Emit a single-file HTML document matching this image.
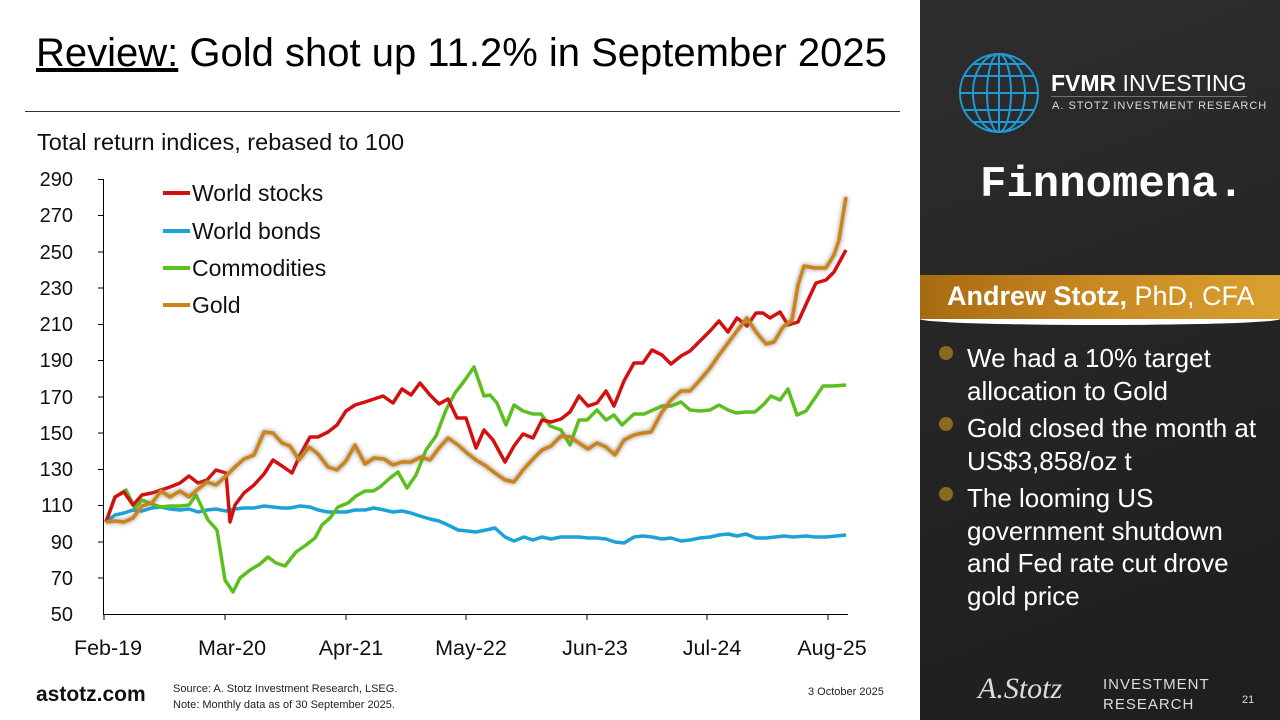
<!DOCTYPE html>
<html><head><meta charset="utf-8"><style>
body{margin:0;width:1280px;height:720px;overflow:hidden;background:#fff;font-family:"Liberation Sans",sans-serif;position:relative}
.t{position:absolute;white-space:nowrap}
#side{position:absolute;left:920px;top:0;width:360px;height:720px;background:linear-gradient(160deg,#2e2e2e,#232323 60%,#1e1e1e)}
</style></head><body>
<div class="t" style="left:36px;top:31px;font-size:40px;color:#000"><span style="text-decoration:underline">Review:</span> Gold shot up 11.2% in September 2025</div>
<div style="position:absolute;left:25px;top:111px;width:875px;height:1px;background:#333"></div>
<div class="t" style="left:37px;top:129px;font-size:23.5px;color:#111">Total return indices, rebased to 100</div>
<svg style="position:absolute;left:0;top:0" width="920" height="720">
<defs><filter id="g" x="-5%" y="-5%" width="110%" height="110%"><feDropShadow dx="0" dy="0" stdDeviation="2.5" flood-color="#777" flood-opacity="0.9"/></filter></defs>
<g stroke="#000" stroke-width="1">
<line x1="103.5" y1="179" x2="103.5" y2="614"/><line x1="103" y1="614.5" x2="848" y2="614.5"/>
<line x1="98" y1="179.5" x2="103" y2="179.5"/><line x1="98" y1="215.5" x2="103" y2="215.5"/><line x1="98" y1="252" x2="103" y2="252"/><line x1="98" y1="288" x2="103" y2="288"/><line x1="98" y1="324.5" x2="103" y2="324.5"/><line x1="98" y1="360.5" x2="103" y2="360.5"/><line x1="98" y1="397" x2="103" y2="397"/><line x1="98" y1="433" x2="103" y2="433"/><line x1="98" y1="469.5" x2="103" y2="469.5"/><line x1="98" y1="505.5" x2="103" y2="505.5"/><line x1="98" y1="542" x2="103" y2="542"/><line x1="98" y1="578" x2="103" y2="578"/>
<line x1="104" y1="614" x2="104" y2="620"/><line x1="225" y1="614" x2="225" y2="620"/><line x1="346" y1="614" x2="346" y2="620"/><line x1="466" y1="614" x2="466" y2="620"/><line x1="587" y1="614" x2="587" y2="620"/><line x1="707" y1="614" x2="707" y2="620"/><line x1="828" y1="614" x2="828" y2="620"/>
</g>
<g font-size="20" fill="#111" text-anchor="end">
<text x="73" y="186">290</text><text x="73" y="222">270</text><text x="73" y="259">250</text><text x="73" y="295">230</text><text x="73" y="331">210</text><text x="73" y="367">190</text><text x="73" y="404">170</text><text x="73" y="440">150</text><text x="73" y="476">130</text><text x="73" y="512">110</text><text x="73" y="549">90</text><text x="73" y="585">70</text><text x="73" y="621">50</text>
</g>
<g font-size="21.5" fill="#111" text-anchor="middle">
<text x="108" y="655">Feb-19</text><text x="232" y="655">Mar-20</text><text x="351" y="655">Apr-21</text><text x="471" y="655">May-22</text><text x="595" y="655">Jun-23</text><text x="712" y="655">Jul-24</text><text x="832" y="655">Aug-25</text>
</g>
<g fill="none" stroke-width="3.5" stroke-linejoin="round">
<polyline stroke="#1ba2d6" points="106,522 115,515 124,513 133,510 142,511 152,508 161,507 170,509 180,510 189,509 198,512 207,510 216,509 226,511 235,509 244,508 254,508 264,506 273,507 282,508 290,508 300,506 310,507 318,510 328,512 337,512 346,512 355,510 365,510 374,508 384,510 393,512 402,511 411,513 420,516 430,519 439,521 448,525 458,530 467,531 476,532 486,530 495,528 505,537 514,541 524,537 533,540 542,537 551,539 561,537 570,537 579,537 588,538 597,538 606,539 615,542 624,543 634,537 643,536 652,537 662,539 671,538 681,541 690,540 700,538 710,537 719,535 728,534 737,536 746,534 756,538 766,538 775,537 784,536 793,537 806,536 815,537 826,537 846,535"/>
<polyline stroke="#5bbf1e" points="106,522 115,497 126,490 135,508 142,500 152,504 161,507 170,506 180,506 189,505 196,495 208,520 217,530 225,580 233,592 240,578 250,570 260,564 268,557 276,563 285,566 296,552 306,545 315,538 322,525 330,518 338,507 348,503 356,496 365,491 373,491 380,487 390,478 398,472 407,488 416,475 426,450 436,436 446,410 455,393 465,380 474,367 484,396 490,395 497,403 506,425 514,405 523,411 533,414 541,414 550,426 561,430 570,445 579,420 587,420 597,410 606,420 614,415 622,425 634,414 644,414 653,410 662,406 671,406 681,402 690,410 700,411 710,410 719,405 728,410 736,413 746,412 755,412 764,404 771,396 780,400 788,389 797,415 806,411 815,398 823,386 833,386 846,385"/>
<polyline stroke="#d40f0f" points="106,522 115,497 124,492 133,505 142,495 152,493 161,490 170,487 180,483 189,476 198,483 207,480 216,470 226,473 230,522 235,505 244,493 254,485 264,474 273,460 282,466 292,473 300,455 310,437 318,437 328,432 337,425 346,411 355,405 365,402 374,399 383,396 393,403 402,389 411,395 420,383 430,395 439,404 448,399 457,418 466,418 476,448 484,430 493,440 505,462 514,446 523,434 533,438 542,420 551,422 561,419 570,412 579,396 588,406 597,403 606,391 614,406 624,381 634,363 643,363 652,350 662,355 671,364 681,356 690,351 700,341 710,331 719,321 728,332 737,318 747,326 756,313 763,313 770,318 780,312 788,325 798,322 808,300 816,283 826,280 834,272 846,250"/>
<polyline stroke="#cc8418" filter="url(#g)" points="106,522 115,521 124,522 133,518 142,506 152,503 161,491 170,497 180,491 189,497 198,489 207,482 216,485 226,476 235,467 244,459 254,455 264,432 273,433 282,443 290,446 299,460 309,447 318,454 328,467 337,470 346,461 355,445 365,464 374,458 384,459 393,465 402,462 411,462 421,457 430,460 439,448 448,438 458,445 467,453 476,460 486,466 495,473 505,480 514,482 523,470 533,459 542,450 551,446 561,436 570,437 579,443 588,449 597,443 606,447 615,455 624,440 634,435 643,433 651,432 662,412 671,400 681,391 690,391 700,380 710,368 719,355 728,343 737,331 747,318 756,332 766,344 774,342 783,327 792,320 798,285 804,266 815,268 826,268 834,255 839,240 846,197"/>
</g>
<g stroke-width="4"><line x1="163" y1="193" x2="190" y2="193" stroke="#d40f0f"/><line x1="163" y1="231" x2="190" y2="231" stroke="#1ba2d6"/><line x1="163" y1="268" x2="190" y2="268" stroke="#5bbf1e"/><line x1="163" y1="305" x2="190" y2="305" stroke="#cc8418"/></g>
<g font-size="23" fill="#111"><text x="192" y="201">World stocks</text><text x="192" y="239">World bonds</text><text x="192" y="276">Commodities</text><text x="192" y="313">Gold</text></g>
</svg>
<div class="t" style="left:36px;top:683px;font-size:21px;font-weight:bold;color:#111">astotz.com</div>
<div class="t" style="left:173px;top:681px;font-size:11px;color:#222;line-height:16px">Source: A. Stotz Investment Research, LSEG.<br>Note: Monthly data as of 30 September 2025.</div>
<div class="t" style="left:808px;top:686px;font-size:11px;color:#222">3 October 2025</div>
<div id="side">
<svg style="position:absolute;left:38px;top:52px" width="82" height="82"><g fill="none" stroke="#1f9ad6" stroke-width="2"><circle cx="41" cy="41" r="39"/><ellipse cx="41" cy="41" rx="26" ry="39"/><ellipse cx="41" cy="41" rx="12" ry="39"/><line x1="41" y1="2" x2="41" y2="80"/><line x1="2" y1="41" x2="80" y2="41"/><line x1="6" y1="24" x2="76" y2="24"/><line x1="6" y1="58" x2="76" y2="58"/><line x1="15" y1="12" x2="67" y2="12"/><line x1="15" y1="70" x2="67" y2="70"/></g></svg>
<div class="t" style="left:131px;top:70px;font-size:23px;color:#fff"><b>FVMR</b> INVESTING</div>
<div style="position:absolute;left:131px;top:96px;width:196px;height:1px;background:#5a7a8a"></div>
<div class="t" style="left:132px;top:100px;font-size:11px;color:#ddd;letter-spacing:1px">A. STOTZ INVESTMENT RESEARCH</div>
<div class="t" style="left:60px;top:160px;font-size:44px;font-weight:bold;color:#fff;font-family:'Liberation Mono',monospace">Finnomena.</div>
<div style="position:absolute;left:0;top:275px;width:360px;height:44px;background:linear-gradient(90deg,#a86a10,#c98a22 50%,#d9a030)"></div>
<div class="t" style="left:27px;top:281px;font-size:27px;color:#fff"><b>Andrew Stotz,</b> PhD, CFA</div>
<div style="position:absolute;left:0;top:319px;width:360px;height:6px;background:#fff;border-radius:0 0 50% 50%/0 0 100% 100%"></div>
<div style="position:absolute;left:19px;top:346px;width:14px;height:14px;border-radius:50%;background:#8a6a20"></div>
<div style="position:absolute;left:19px;top:417px;width:14px;height:14px;border-radius:50%;background:#8a6a20"></div>
<div style="position:absolute;left:19px;top:487px;width:14px;height:14px;border-radius:50%;background:#8a6a20"></div>
<div class="t" style="left:47px;top:342px;font-size:26px;color:#fff;line-height:32.5px">We had a 10% target<br>allocation to Gold</div>
<div class="t" style="left:47px;top:412px;font-size:26px;color:#fff;line-height:32.5px">Gold closed the month at<br>US$3,858/oz t</div>
<div class="t" style="left:47px;top:482px;font-size:26px;color:#fff;line-height:32.5px">The looming US<br>government shutdown<br>and Fed rate cut drove<br>gold price</div>
<div class="t" style="left:58px;top:672px;font-size:30px;color:#ddd;font-family:'Liberation Serif',serif;font-style:italic">A.Stotz</div>
<div class="t" style="left:183px;top:675px;font-size:15px;color:#ddd;line-height:20px;letter-spacing:1px">INVESTMENT<br>RESEARCH</div>
<div class="t" style="left:322px;top:694px;font-size:11px;color:#ddd">21</div>
</div>
</body></html>
